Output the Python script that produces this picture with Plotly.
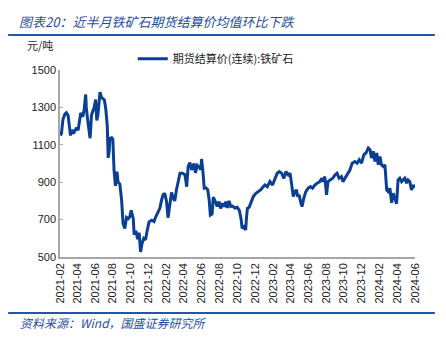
import plotly.graph_objects as go

dates = [
"2021-02-02","2021-02-06","2021-02-11","2021-02-18","2021-02-23","2021-03-01","2021-03-05","2021-03-09","2021-03-14","2021-03-19",
"2021-03-24","2021-03-30","2021-04-04","2021-04-10","2021-04-13","2021-04-20","2021-04-25","2021-04-30","2021-05-02","2021-05-07",
"2021-05-13","2021-05-15","2021-05-20","2021-05-25","2021-05-29","2021-06-03","2021-06-07","2021-06-11","2021-06-15","2021-06-18",
"2021-06-23","2021-06-29","2021-07-03","2021-07-08","2021-07-13","2021-07-16","2021-07-19","2021-07-22","2021-07-28","2021-08-01",
"2021-08-05","2021-08-10","2021-08-15","2021-08-19","2021-08-25","2021-08-31","2021-09-05","2021-09-11","2021-09-17","2021-09-23",
"2021-09-28","2021-10-03","2021-10-07","2021-10-10","2021-10-13","2021-10-19","2021-10-25","2021-10-30","2021-11-04","2021-11-09",
"2021-11-15","2021-11-21","2021-11-27","2021-12-03","2021-12-12","2021-12-20","2021-12-26","2022-01-03","2022-01-09","2022-01-15",
"2022-01-20","2022-01-26","2022-02-01","2022-02-06","2022-02-12","2022-02-18","2022-02-24","2022-03-01","2022-03-07","2022-03-13",
"2022-03-19","2022-03-28","2022-04-05","2022-04-11","2022-04-16","2022-04-22","2022-04-28","2022-05-06","2022-05-11","2022-05-17",
"2022-05-24","2022-05-29","2022-06-01","2022-06-06","2022-06-10","2022-06-16","2022-06-22","2022-06-27","2022-07-01","2022-07-07",
"2022-07-11","2022-07-20","2022-07-24","2022-07-31","2022-08-05","2022-08-12","2022-08-17","2022-08-23","2022-08-28","2022-09-03",
"2022-09-09","2022-09-15","2022-09-23","2022-10-01","2022-10-08","2022-10-14","2022-10-18","2022-10-24","2022-10-30","2022-11-02",
"2022-11-05","2022-11-11","2022-11-19","2022-11-25","2022-12-04","2022-12-12","2022-12-20","2022-12-29","2023-01-04","2023-01-12",
"2023-01-21","2023-01-30","2023-02-07","2023-02-15","2023-02-22","2023-03-02","2023-03-10","2023-03-17","2023-03-25","2023-03-31",
"2023-04-05","2023-04-11","2023-04-17","2023-04-22","2023-04-26","2023-05-01","2023-05-06","2023-05-11","2023-05-17","2023-05-24",
"2023-06-01","2023-06-09","2023-06-16","2023-06-24","2023-07-02","2023-07-11","2023-07-18","2023-07-22","2023-07-28","2023-08-03",
"2023-08-08","2023-08-17","2023-08-24","2023-09-01","2023-09-08","2023-09-15","2023-09-23","2023-09-28","2023-10-05","2023-10-11",
"2023-10-16","2023-10-22","2023-10-30","2023-11-08","2023-11-16","2023-11-23","2023-12-01","2023-12-09","2023-12-16","2023-12-24",
"2023-12-30","2024-01-04","2024-01-10","2024-01-16","2024-01-22","2024-01-27","2024-02-02","2024-02-07","2024-02-13","2024-02-19",
"2024-02-25","2024-03-01","2024-03-07","2024-03-13","2024-03-18","2024-03-24","2024-03-30","2024-04-04","2024-04-10","2024-04-16",
"2024-04-21","2024-04-27","2024-05-03","2024-05-08","2024-05-14","2024-05-20","2024-05-26","2024-05-31",
]

prices = [
1150,1160,1235,1265,1271,1255,1200,1150,1180,1160,
1175,1192,1178,1230,1270,1250,1290,1369,1300,1230,
1150,1135,1260,1280,1300,1342,1230,1260,1350,1382,
1353,1345,1340,1290,1200,1030,1060,1135,1138,1130,
966,880,957,900,890,805,680,653,712,705,
715,750,720,705,620,640,595,630,527,572,
600,592,644,688,697,690,715,742,760,805,
832,841,796,710,780,845,815,800,860,900,
948,948,940,876,985,1005,966,1000,950,990,
980,966,1024,950,868,870,860,805,724,730,
820,790,770,796,760,787,769,796,762,800,
770,772,762,766,751,706,653,661,645,715,
760,766,805,823,841,850,859,876,885,876,
903,885,921,948,957,948,921,957,939,948,
895,823,850,859,823,832,796,769,814,850,
868,876,868,885,895,903,921,903,930,832,
903,912,921,939,948,921,930,903,921,930,
948,965,1002,1011,1002,1020,1002,1047,1056,1083,
1074,1029,1065,1011,1056,993,1038,993,984,993,
859,850,868,790,841,814,785,912,921,903,
912,921,895,912,903,859,885,870,
]

series_name = "期货结算价(连续):铁矿石"
title_text = "图表20：近半月铁矿石期货结算价均值环比下跌"
source_text = "资料来源：Wind，国盛证券研究所"
unit_text = "元/吨"
y_ticks = [500, 700, 900, 1100, 1300, 1500]

BLUE = "#0B3F93"
RULE = "#2257A8"
CJK = "Noto Sans CJK SC"

fig = go.Figure()
fig.add_trace(go.Scatter(
    x=dates, y=prices, mode="lines", name=series_name,
    line=dict(color=BLUE, width=3),
))

fig.update_layout(
    width=446, height=343,
    margin=dict(l=60, r=31, t=70, b=86),
    paper_bgcolor="white", plot_bgcolor="white",
    showlegend=True,
    legend=dict(
        orientation="h", x=0.205, y=1.06, xanchor="left", yanchor="middle",
        font=dict(family=CJK, size=11, color="#222"),
        bgcolor="rgba(0,0,0,0)", itemwidth=30,
    ),
    xaxis=dict(
        type="date", range=["2021-02-01", "2024-06-01"],
        tick0="2021-02-01", dtick="M2", tickformat="%Y-%m",
        tickangle=-90, showgrid=False, zeroline=False,
        showline=True, linecolor="#A6A6A6", linewidth=1.5,
        ticks="", tickfont=dict(family="Liberation Sans", size=11, color="#222"),
    ),
    yaxis=dict(
        range=[500, 1500], tickvals=y_ticks, showgrid=False, zeroline=False,
        showline=True, linecolor="#A6A6A6", linewidth=1.5,
        ticks="inside", ticklen=3, tickcolor="#A6A6A6",
        tickfont=dict(family="Liberation Sans", size=11, color="#222"),
    ),
    annotations=[
        dict(text=title_text, xref="paper", yref="paper", x=-0.12, y=1.257,
             xanchor="left", yanchor="middle", showarrow=False,
             font=dict(family=CJK, size=13, color="#1F4E9E", style="italic")),
        dict(text=unit_text, xref="paper", yref="paper", x=-0.10, y=1.134,
             xanchor="left", yanchor="middle", showarrow=False,
             font=dict(family=CJK, size=11, color="#222")),
        dict(text=source_text, xref="paper", yref="paper", x=-0.117, y=-0.348,
             xanchor="left", yanchor="middle", showarrow=False,
             font=dict(family=CJK, size=12, color="#1F4E9E", style="italic")),
    ],
    shapes=[
        dict(type="line", xref="paper", yref="paper", x0=-0.146, x1=1.056,
             y0=1.187, y1=1.187, line=dict(color=RULE, width=2)),
        dict(type="line", xref="paper", yref="paper", x0=-0.146, x1=1.056,
             y0=-0.299, y1=-0.299, line=dict(color=RULE, width=2)),
    ],
)

fig.write_html("out.html")
